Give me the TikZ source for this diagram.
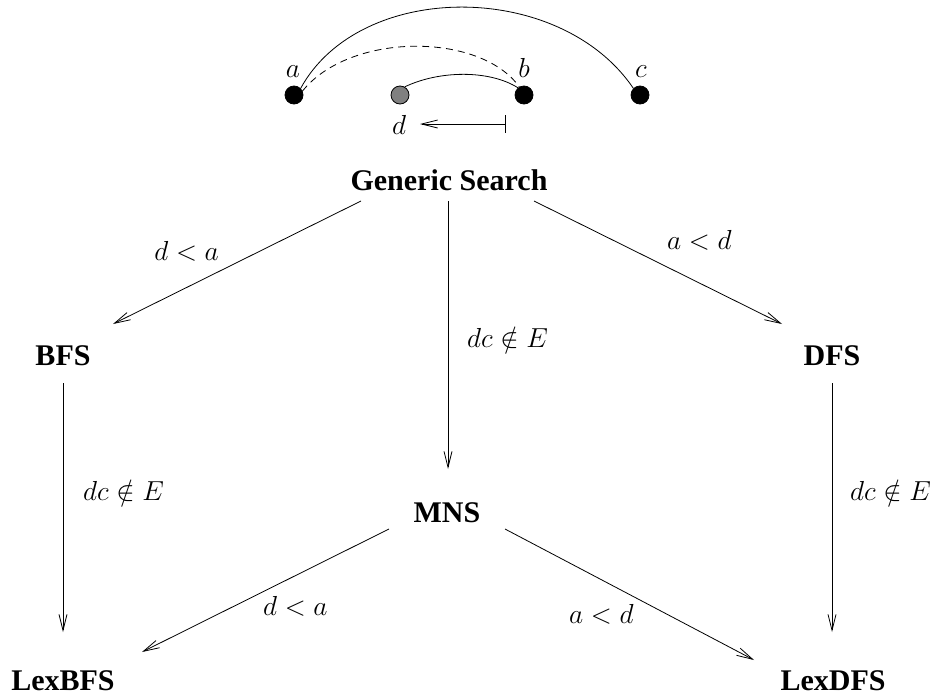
\RequirePackage{fix-cm}
\documentclass[tikz,border=0pt]{standalone}
\usepackage{fontspec}
\setmainfont{Liberation Serif}
\usetikzlibrary{arrows.meta}
\begin{document}
\begin{tikzpicture}[x=1pt,y=-1pt,
  arr/.style={line width=0.8pt,-{Straight Barb[length=16pt,width=8pt,line width=0.8pt]}},
  title/.style={font=\fontsize{30}{36}\selectfont\bfseries,anchor=base,inner sep=0pt},
  lab/.style={font=\fontsize{27.5}{32}\selectfont,inner sep=0pt},
  vtx/.style={circle,draw=black,line width=0.8pt,minimum size=18pt,inner sep=0pt},
  curve/.style={line width=0.8pt}]
\useasboundingbox (0,0) rectangle (933,699);
% top example
\node[vtx,fill=black] (va) at (294,95) {};
\node[vtx,fill=gray] (vd) at (400,95) {};
\node[vtx,fill=black] (vb) at (524,95) {};
\node[vtx,fill=black] (vc) at (640,95) {};
\node[lab,anchor=base] (la) at (293,77) {$a$};
\node[lab,anchor=base] (lb) at (524,77) {$b$};
\node[lab,anchor=base] (lc) at (641,77) {$c$};
\draw[curve] (va.45) .. controls (360,-20) and (560,-20) .. (vc.135);
\draw[curve,dashed,dash pattern=on 7pt off 5pt] (va.25) .. controls (350,32) and (480,32) .. (vb.120);
\draw[curve] (vd.60) .. controls (440,70) and (490,70) .. (vb.130);
\node[lab,anchor=base] (ld) at (399,134) {$d$};
\coordinate (barR) at (506,124);
\coordinate (barL) at (420,124);
\draw[line width=0.8pt,{Bar[width=18pt,line width=0.8pt]}-{Straight Barb[length=16pt,width=8pt,line width=0.8pt]}] (barR) -- (barL);
% nodes
\node[title] (gs) at (449,190) {Generic Search};
\node[title] (bfs) at (63,365) {BFS};
\node[title] (dfs) at (832,365) {DFS};
\node[title] (mns) at (447,522) {MNS};
\node[title] (lbfs) at (63,690) {LexBFS};
\node[title] (ldfs) at (833,690) {LexDFS};
% connector end points
\coordinate (gsL) at (361,201);
\coordinate (gsM) at (448,201);
\coordinate (gsR) at (534,201);
\coordinate (bfsT) at (113,324);
\coordinate (mnsT) at (448,469);
\coordinate (dfsT) at (782,324);
\coordinate (bfsB) at (63,383);
\coordinate (lbfsT) at (63,632);
\coordinate (dfsB) at (832,383);
\coordinate (ldfsT) at (832,632);
\coordinate (mnsL) at (389,529);
\coordinate (mnsR) at (505,529);
\coordinate (lbfsR) at (142,652);
\coordinate (ldfsL) at (754,660);
\draw[arr] (gsL) -- (bfsT);
\draw[arr] (gsM) -- (mnsT);
\draw[arr] (gsR) -- (dfsT);
\draw[arr] (bfsB) -- (lbfsT);
\draw[arr] (dfsB) -- (ldfsT);
\draw[arr] (mnsL) -- (lbfsR);
\draw[arr] (mnsR) -- (ldfsL);
% labels
\node[lab,anchor=base east] (l1) at (219,260) {$d<a$};
\node[lab,anchor=base west] (l2) at (667,249) {$a<d$};
\node[lab,anchor=base west] (l3) at (467,347) {$dc\notin E$};
\node[lab,anchor=base west] (l4) at (83,500) {$dc\notin E$};
\node[lab,anchor=base west] (l5) at (850,500) {$dc\notin E$};
\node[lab,anchor=base west] (l6) at (263,615) {$d<a$};
\node[lab,anchor=base west] (l7) at (569,623) {$a<d$};
\end{tikzpicture}
\end{document}
